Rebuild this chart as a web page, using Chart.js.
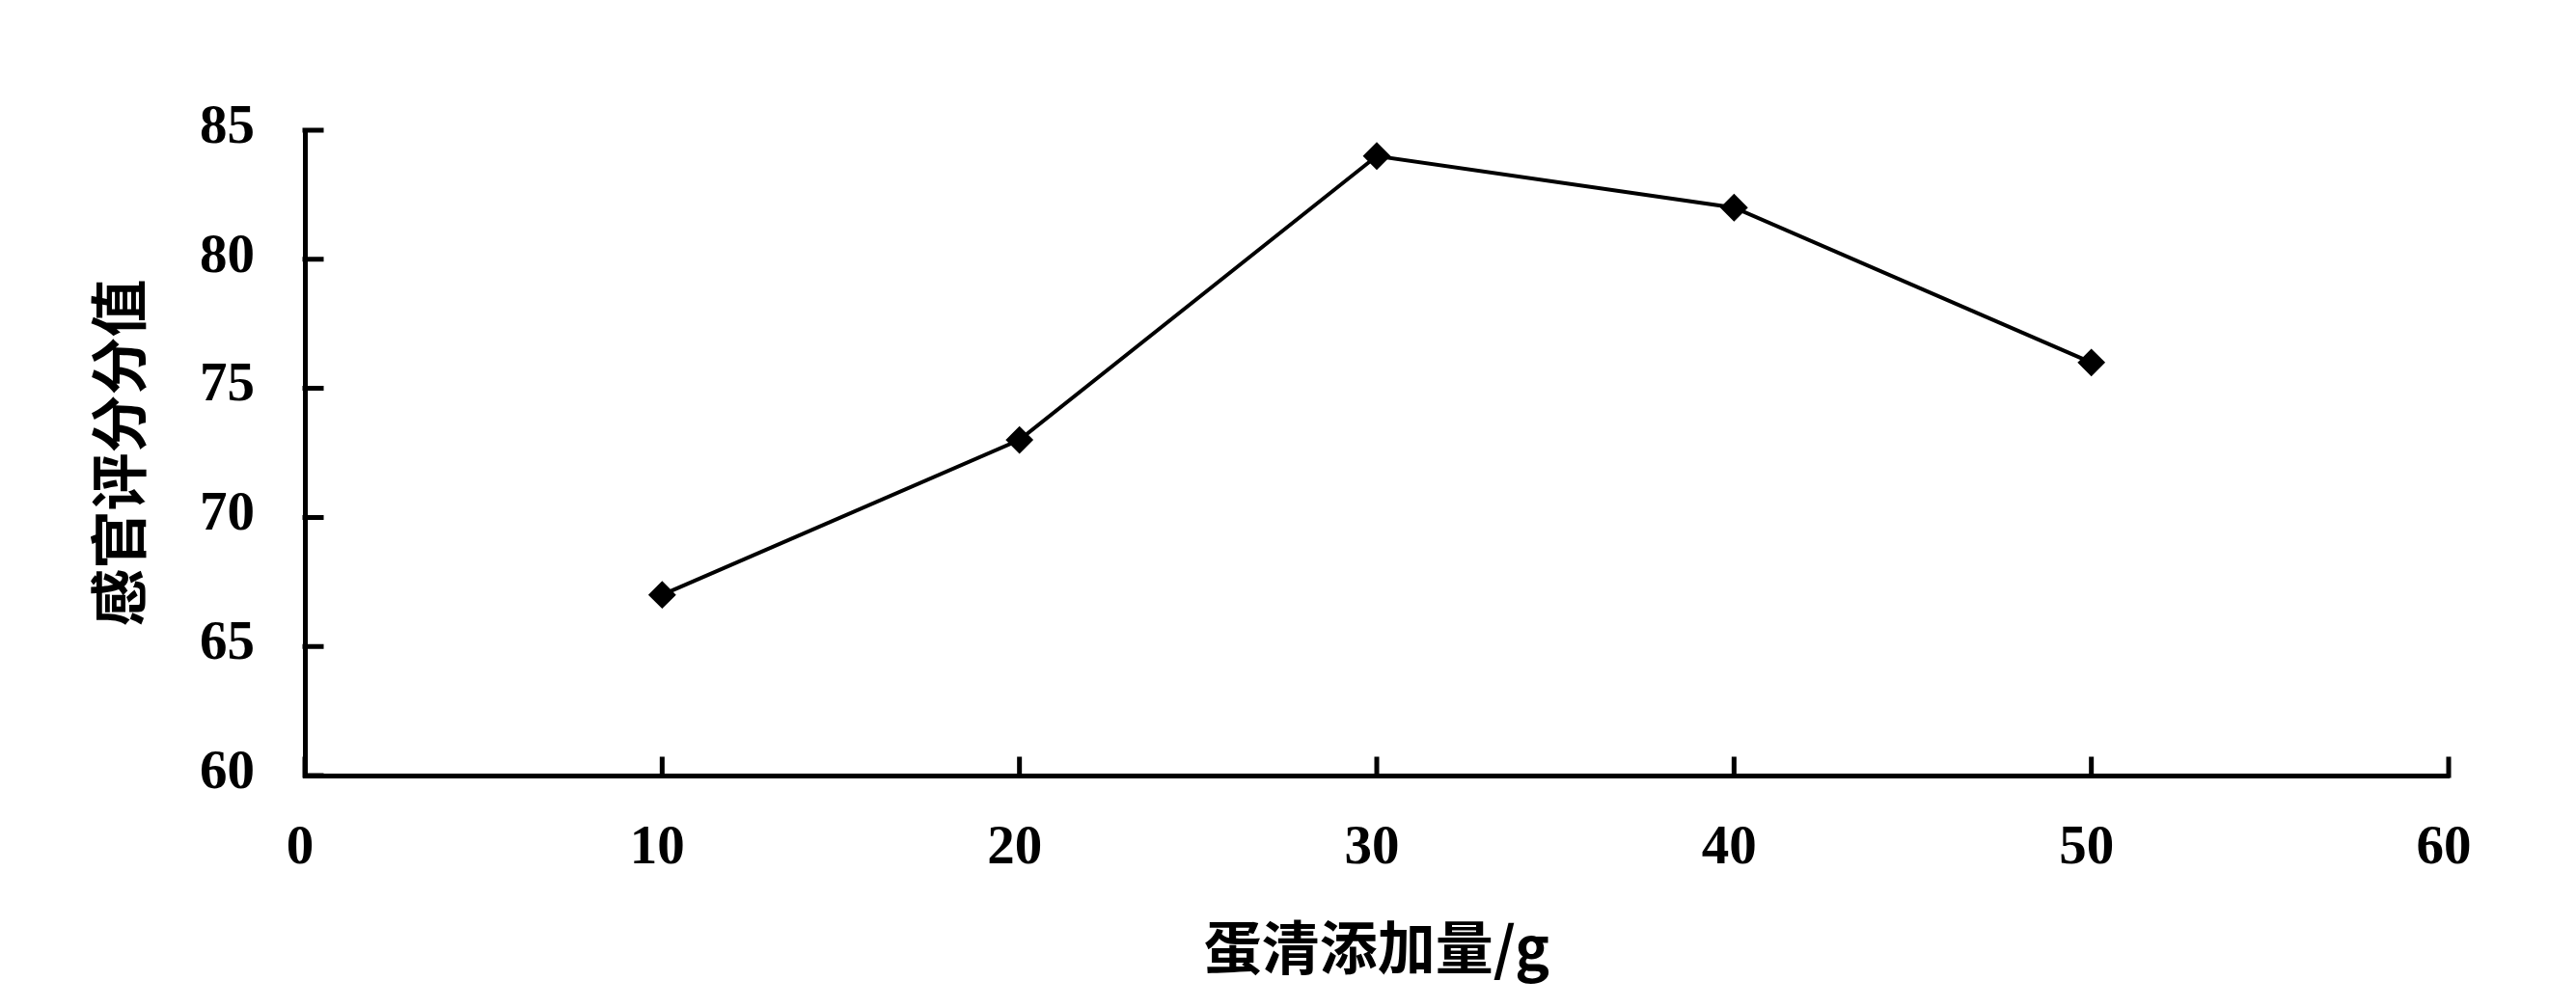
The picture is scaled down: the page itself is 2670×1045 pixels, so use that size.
<!DOCTYPE html>
<html>
<head>
<meta charset="utf-8">
<script src="https://cdn.jsdelivr.net/npm/chart.js@4/dist/chart.umd.min.js"></script>
<style>
html,body{margin:0;padding:0;background:#fff;}
#wrap{width:2670px;height:1045px;position:relative;}
</style>
</head>
<body>
<div id="wrap"><canvas id="c" width="2670" height="1045"></canvas></div>
<script>
const xValues = [10, 20, 30, 40, 50];
const scores = [67, 73, 84, 82, 76];
const xTicks = [0, 10, 20, 30, 40, 50, 60];
const yTicks = [60, 65, 70, 75, 80, 85];
const xTitle = '蛋清添加量/g';
const yTitle = '感官评分分值';

const tickFont = {family: '"Liberation Serif", "DejaVu Serif", serif', size: 57, weight: 'bold'};
const titleFont = {family: '"Noto Sans CJK SC", sans-serif', size: 60, weight: 'bold'};

const inwardTicks = {
  id: 'inwardTicks',
  afterDatasetsDraw(chart) {
    const ctx = chart.ctx, xs = chart.scales.x, ys = chart.scales.y;
    ctx.save();
    ctx.strokeStyle = '#000';
    ctx.lineWidth = 5;
    ctx.lineCap = 'square';
    ctx.beginPath();
    xTicks.forEach(v => {
      const px = xs.getPixelForValue(v);
      ctx.moveTo(px, ys.bottom);
      ctx.lineTo(px, ys.bottom - 17);
    });
    yTicks.forEach(v => {
      const py = ys.getPixelForValue(v);
      ctx.moveTo(xs.left, py);
      ctx.lineTo(xs.left + 17, py);
    });
    ctx.stroke();
    ctx.restore();
  }
};

new Chart(document.getElementById('c'), {
  type: 'scatter',
  data: {
    datasets: [{
      data: xValues.map((x, i) => ({x: x, y: scores[i]})),
      showLine: true,
      borderColor: '#000',
      backgroundColor: '#000',
      borderWidth: 4,
      pointStyle: 'rectRot',
      pointRadius: 13,
      pointBorderWidth: 2,
      tension: 0
    }]
  },
  options: {
    responsive: false,
    animation: false,
    devicePixelRatio: 1,
    layout: {padding: {left: 0, right: 132, top: 135, bottom: 0}},
    plugins: {legend: {display: false}, tooltip: {enabled: false}},
    scales: {
      x: {
        type: 'linear',
        min: 0, max: 60,
        afterBuildTicks: s => { s.ticks = xTicks.map(v => ({value: v})); },
        afterFit: s => { s.height = 1045 - 804; },
        grid: {display: true, drawOnChartArea: false, drawTicks: false},
        border: {display: true, color: '#000', width: 5},
        ticks: {color: '#000', font: tickFont, padding: 42, maxRotation: 0, labelOffset: -5},
        title: {display: true, text: xTitle, color: '#000', font: titleFont, padding: {top: 0, bottom: 27}}
      },
      y: {
        type: 'linear',
        min: 60, max: 85,
        afterBuildTicks: s => { s.ticks = yTicks.map(v => ({value: v})); },
        afterFit: s => { s.width = 316; },
        grid: {display: true, drawOnChartArea: false, drawTicks: false},
        border: {display: true, color: '#000', width: 5},
        ticks: {color: '#000', font: tickFont, padding: 52, labelOffset: -2},
        title: {display: true, text: yTitle, color: '#000', font: titleFont, padding: {top: 87, bottom: 0}}
      }
    }
  },
  plugins: [inwardTicks]
});
</script>
</body>
</html>
